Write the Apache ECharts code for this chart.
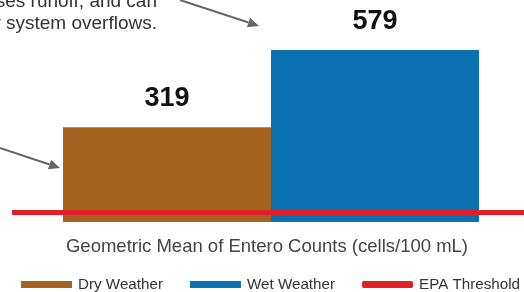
<!DOCTYPE html>
<html>
<head>
<meta charset="utf-8">
<script src="https://cdn.jsdelivr.net/npm/echarts@6/dist/echarts.min.js"></script>
<style>
  html, body { margin: 0; padding: 0; background: #fff; }
  #chart { width: 524px; height: 292px; }
</style>
</head>
<body>
<div id="chart"></div>
<script>
// data
const categories = ['Geometric Mean of Entero Counts (cells/100 mL)']
const dryWeather = [319]
const wetWeather = [579]
const epaThreshold = [32, 32]
const thresholdSpan = ['start', 'end']

const brown = '#A6621F'
const blue = '#0A71B3'
const red = '#E21F26'
const font = '"Liberation Sans", Arial, Helvetica, sans-serif'

// little arrow: line + triangle head
function arrow(x1, y1, x2, y2) {
  const len = Math.hypot(x2 - x1, y2 - y1)
  const ux = (x2 - x1) / len, uy = (y2 - y1) / len
  const hl = 11, hw = 5
  const bx = x2 - ux * hl, by = y2 - uy * hl
  return {
    type: 'group',
    children: [
      {type: 'line', shape: {x1, y1, x2: bx, y2: by}, style: {stroke: '#666', lineWidth: 2}},
      {type: 'polygon', shape: {points: [[x2, y2], [bx - uy * hw, by + ux * hw], [bx + uy * hw, by - ux * hw]]}, style: {fill: '#666'}}
    ]
  }
}

const chart = echarts.init(document.getElementById('chart'))
chart.setOption({
  animation: false,
  textStyle: {fontFamily: font},
  grid: [
    {left: 63, right: 45, top: 50, bottom: 70},
    {left: 12, right: 0, top: 50, bottom: 70}
  ],
  xAxis: [
    {
      type: 'category',
      gridIndex: 0,
      data: categories,
      axisLine: {show: false},
      axisTick: {show: false},
      axisLabel: {show: false},
      name: categories[0],
      nameLocation: 'middle',
      nameGap: 15,
      nameTextStyle: {fontSize: 18.5, color: '#444', fontFamily: font, padding: [0, 8, 0, 0]}
    },
    {
      type: 'category',
      gridIndex: 1,
      data: thresholdSpan,
      boundaryGap: false,
      show: false
    }
  ],
  yAxis: [
    {type: 'value', gridIndex: 0, min: 0, max: 579, show: false, splitLine: {show: false}},
    {type: 'value', gridIndex: 1, min: 0, max: 579, show: false, splitLine: {show: false}}
  ],
  legend: {
    left: 21,
    top: 277,
    padding: 0,
    itemWidth: 51,
    itemHeight: 7,
    itemGap: 27,
    textStyle: {fontSize: 15.2, color: '#333', fontFamily: font, padding: [0, 0, 0, 1]},
    data: [
      {name: 'Dry Weather', icon: 'rect'},
      {name: 'Wet Weather', icon: 'rect'},
      {name: 'EPA Threshold', icon: 'roundRect'}
    ]
  },
  series: [
    {
      name: 'Dry Weather',
      type: 'bar',
      data: dryWeather,
      barGap: '0%',
      barCategoryGap: '0%',
      itemStyle: {color: brown},
      label: {show: true, position: 'top', distance: 15, fontSize: 27, fontWeight: 'bold', color: '#111', fontFamily: font}
    },
    {
      name: 'Wet Weather',
      type: 'bar',
      data: wetWeather,
      barGap: '0%',
      barCategoryGap: '0%',
      itemStyle: {color: blue},
      label: {show: true, position: 'top', distance: 15, fontSize: 27, fontWeight: 'bold', color: '#111', fontFamily: font}
    },
    {
      name: 'EPA Threshold',
      type: 'line',
      xAxisIndex: 1,
      yAxisIndex: 1,
      data: epaThreshold,
      symbol: 'none',
      z: 5,
      itemStyle: {color: red},
      lineStyle: {color: red, width: 5}
    }
  ],
  graphic: [
    {
      type: 'text',
      x: 157,
      y: -9,
      style: {
        text: 'Rain increases runoff, and can\ncause sewer system overflows.',
        align: 'right',
        verticalAlign: 'top',
        font: '19px ' + font,
        fill: '#333',
        lineHeight: 22
      }
    },
    arrow(180, 0, 259, 26),
    arrow(0, 148, 60, 168)
  ]
})
</script>
</body>
</html>
